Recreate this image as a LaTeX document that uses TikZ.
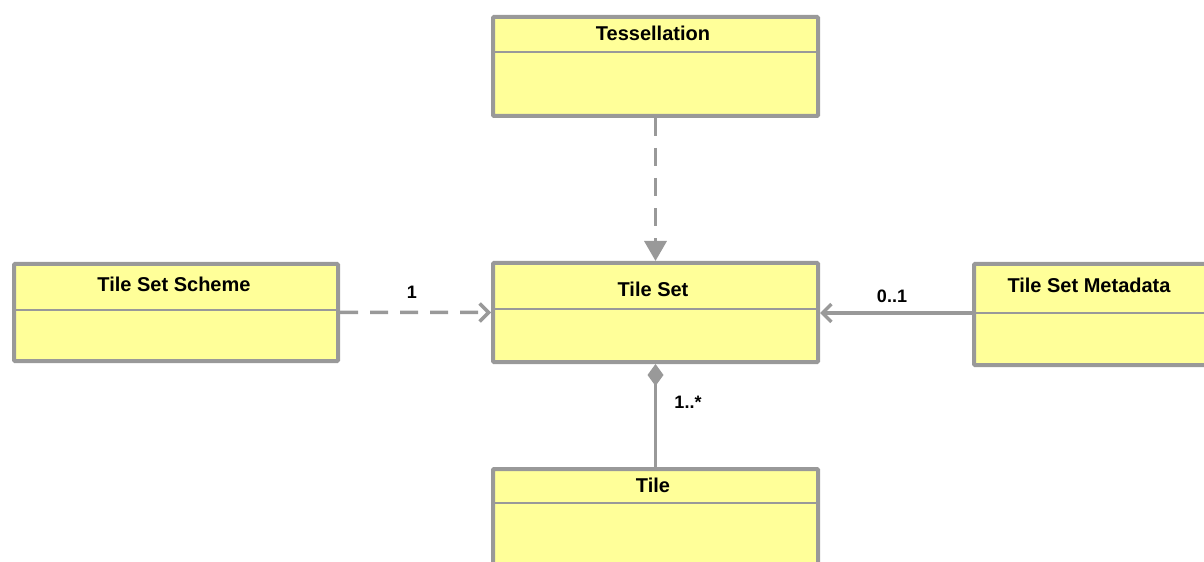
\documentclass[tikz,border=0pt]{standalone}
\usepackage{fontspec}
\setmainfont{Liberation Sans}
\usetikzlibrary{arrows.meta,positioning}
\definecolor{boxfill}{HTML}{FFFF99}
\definecolor{linegray}{HTML}{999999}
\tikzset{
  umlbox/.style={draw=linegray,line width=4bp,fill=boxfill,rectangle,rounded corners=1bp,inner sep=0pt,anchor=north west},
  divider/.style={draw=linegray,line width=1.5bp},
  title/.style={font=\bfseries\fontsize{20bp}{22bp}\selectfont,inner sep=0pt,text=black},
  mult/.style={font=\bfseries\fontsize{18bp}{20bp}\selectfont,inner sep=0pt,text=black},
  conn/.style={draw=linegray,line width=3.5bp},
  dashconn/.style={conn,dash pattern=on 18bp off 12bp},
}
\begin{document}
\begin{tikzpicture}[x=1bp,y=-1bp]
\useasboundingbox (0,0) rectangle (1204,562);
\clip (0,0) rectangle (1204,562);
% boxes
\node[umlbox,minimum width=325bp,minimum height=99bp] (tess) at (491,15) {};
\node[umlbox,minimum width=325bp,minimum height=99bp] (ts) at (491,261) {};
\node[umlbox,minimum width=324bp,minimum height=97bp] (scheme) at (12,262) {};
\node[umlbox,minimum width=236bp,minimum height=101bp] (meta) at (972,262) {};
\node[umlbox,minimum width=325bp,minimum height=110bp] (tile) at (491,467) {};
% dividers
\draw[divider] ([yshift=-37bp]tess.north west) -- ([yshift=-37bp]tess.north east);
\draw[divider] ([yshift=-48bp]ts.north west) -- ([yshift=-48bp]ts.north east);
\draw[divider] ([yshift=-48bp]scheme.north west) -- ([yshift=-48bp]scheme.north east);
\draw[divider] ([yshift=-51bp]meta.north west) -- ([yshift=-51bp]meta.north east);
\draw[divider] ([yshift=-36bp]tile.north west) -- ([yshift=-36bp]tile.north east);
% titles
\node[title] (tesst) at (653,33) {Tessellation};
\node[title] (tst) at (653,289) {Tile Set};
\node[title] (schemet) at (174,284) {Tile Set Scheme};
\node[title] (metat) at (1089,285) {Tile Set Metadata};
\node[title] (tilet) at (653,485) {Tile};
% connectors
\draw[dashconn,-{Triangle[width=22bp,length=20bp]}] (tess.south) -- (ts.north);
\draw[dashconn,-{Straight Barb[width=18bp,length=9bp,line width=3.5bp]}] (scheme.east) -- (ts.west);
\coordinate (metaend) at ([yshift=-51bp]meta.north west);
\draw[conn,-{Straight Barb[width=18bp,length=9bp,line width=3.5bp]}] (metaend) -- (metaend -| ts.east);
\draw[conn,-{Diamond[width=16bp,length=22bp]}] (tile.north) -- (ts.south);
% multiplicities
\node[mult] (m1) at (412,292) {1};
\node[mult] (m2) at (892,296) {0..1};
\node[mult] (m3) at (688,402) {1..*};
\end{tikzpicture}
\end{document}
